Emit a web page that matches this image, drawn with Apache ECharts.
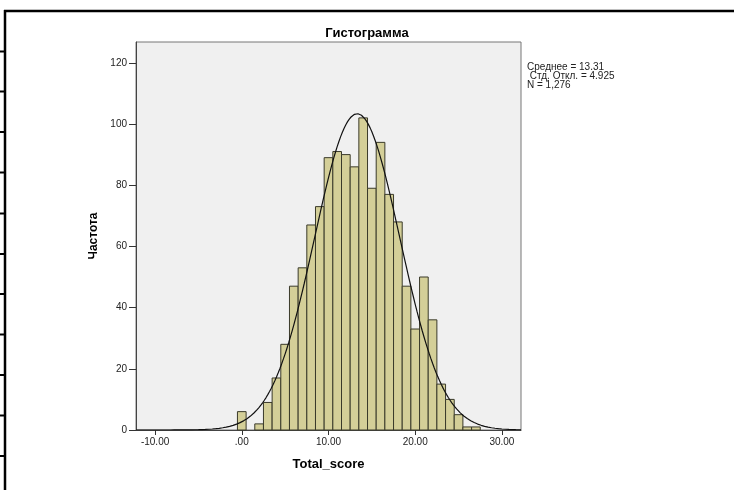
<!DOCTYPE html>
<html>
<head>
<meta charset="utf-8">
<script src="https://cdn.jsdelivr.net/npm/echarts@6/dist/echarts.min.js"></script>
<style>html,body{margin:0;padding:0;background:#fff}#c{width:734px;height:490px}</style>
</head>
<body>
<div id="c"></div>
<script>
// Histogram bins (centre of each 1-unit bin) and frequencies
var binCenters = [0,1,2,3,4,5,6,7,8,9,10,11,12,13,14,15,16,17,18,19,20,21,22,23,24,25,26,27];
var counts = [6,0,2,9,17,28,47,53,67,73,89,91,90,86,102,79,94,77,68,47,33,50,36,15,10,5,1,1];
var binWidth = 1;
// Summary statistics shown in the chart
var meanVal = 13.31;
var sdVal = 4.925;
var nVal = 1276;
// Tick labels
var xTicks = [-10, 0, 10, 20, 30];
var xTickLabels = ['-10.00', '.00', '10.00', '20.00', '30.00'];
var yTicks = [0, 20, 40, 60, 80, 100, 120];
var statLines = ['Среднее = 13.31', ' Стд. Откл. = 4.925', 'N = 1,276'];

var xMin = -12.2, xMax = 32.2, yMax = 126.8;

var barData = binCenters.map(function (c, i) { return [c - binWidth / 2, c + binWidth / 2, counts[i]]; });

// Fitted normal curve defined by the displayed mean, SD and N
var curve = [];
for (var k = 0; k <= 222; k++) {
  var x = xMin + k * 0.2;
  var z = (x - meanVal) / sdVal;
  curve.push([x, nVal * binWidth * Math.exp(-0.5 * z * z) / (sdVal * Math.sqrt(2 * Math.PI))]);
}

var font = 'Liberation Sans, Arial, sans-serif';
var leftTickYs = [51.5, 91.5, 132, 172.5, 213.5, 254, 294, 334.5, 375, 415.5, 456];

var graphics = [
  { type: 'line', shape: { x1: 4, y1: 11, x2: 734, y2: 11 }, style: { stroke: '#000', lineWidth: 2.5 } },
  { type: 'line', shape: { x1: 5, y1: 10, x2: 5, y2: 490 }, style: { stroke: '#000', lineWidth: 2.5 } }
];
leftTickYs.forEach(function (y) {
  graphics.push({ type: 'line', shape: { x1: 0, y1: y, x2: 5, y2: y }, style: { stroke: '#000', lineWidth: 2 } });
});
graphics.push({
  type: 'text', left: 527, top: 62,
  style: { text: statLines.join('\n'), font: '10px ' + font, fill: '#222', lineHeight: 9.3 }
});

var chart = echarts.init(document.getElementById('c'));
chart.setOption({
  animation: false,
  backgroundColor: '#fff',
  title: {
    text: 'Гистограмма', left: 'center', top: 22,
    textStyle: { fontFamily: font, fontSize: 13, fontWeight: 'bold', color: '#000' }
  },
  grid: {
    left: 136, right: 213, top: 42, bottom: 60, show: true,
    backgroundColor: '#f0f0f0', borderColor: '#777', borderWidth: 1
  },
  xAxis: {
    type: 'value', min: xMin, max: xMax,
    name: 'Total_score', nameLocation: 'middle', nameGap: 28,
    nameTextStyle: { fontFamily: font, fontSize: 13, fontWeight: 'bold', color: '#000' },
    axisLine: { show: true, onZero: false, lineStyle: { color: '#444', width: 1 } },
    axisTick: { show: true, inside: false, length: 5, customValues: xTicks, lineStyle: { color: '#333', width: 1 } },
    axisLabel: {
      customValues: xTicks, margin: 7, fontFamily: font, fontSize: 10, color: '#222',
      formatter: function (v) { var i = xTicks.indexOf(v); return i >= 0 ? xTickLabels[i] : ''; }
    },
    splitLine: { show: false }
  },
  yAxis: {
    type: 'value', min: 0, max: yMax,
    name: 'Частота', nameLocation: 'middle', nameGap: 35, nameRotate: 90,
    nameTextStyle: { fontFamily: font, fontSize: 12, fontWeight: 'bold', color: '#000' },
    axisLine: { show: true, onZero: false, lineStyle: { color: '#444', width: 1 } },
    axisTick: { show: true, inside: false, length: 7, customValues: yTicks, lineStyle: { color: '#333', width: 1 } },
    axisLabel: { customValues: yTicks, margin: 9, fontFamily: font, fontSize: 10, color: '#222' },
    splitLine: { show: false }
  },
  series: [
    {
      type: 'custom',
      data: barData,
      encode: { x: [0, 1], y: 2 },
      renderItem: function (params, api) {
        var p0 = api.coord([api.value(0), api.value(2)]);
        var p1 = api.coord([api.value(1), 0]);
        if (api.value(2) <= 0) return null;
        return {
          type: 'rect',
          shape: { x: p0[0], y: p0[1], width: p1[0] - p0[0], height: p1[1] - p0[1] },
          style: { fill: '#d4cf98', stroke: '#3a3a2a', lineWidth: 1 }
        };
      },
      z: 2
    },
    {
      type: 'line', data: curve, showSymbol: false, smooth: false,
      lineStyle: { color: '#111', width: 1.2 }, z: 3, silent: true
    }
  ],
  graphic: graphics
});
</script>
</body>
</html>
